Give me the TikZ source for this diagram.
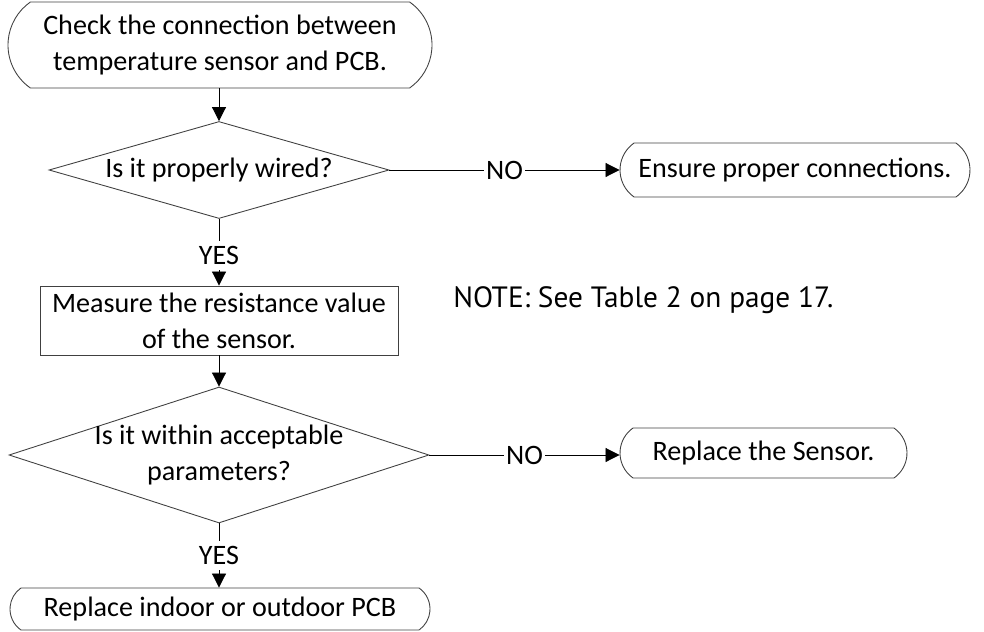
\documentclass[tikz,border=0pt]{standalone}
\usepackage{fontspec}
\setmainfont{Carlito}
\newfontfamily\notefont{PT Sans}
\usetikzlibrary{arrows.meta}
\usetikzlibrary{shapes.geometric}
\usetikzlibrary{shapes.misc}

\begin{document}
\begin{tikzpicture}[
        font=\fontsize{16}{20.5}\selectfont,
        every path/.style={line width=0.5pt},
        terminal/.style={draw=black!75, rounded rectangle, rounded rectangle arc length=110, align=center, inner sep=0pt},
        decision/.style={draw=black!75, diamond, align=center, inner xsep=-1.5cm, inner ysep=-0.25cm},
        process/.style={draw=black!75, rectangle, align=center, inner sep=0pt},
        >={Triangle[width=8pt,length=8pt]},
        answer/.style={fill=white, inner xsep=1pt, inner ysep=3pt}
    ]
            \useasboundingbox (0,0) rectangle (19.68,-12.64);

            \node[terminal, minimum width=8.48cm, minimum height=1.72cm] (check) at (4.4,-0.9) {Check the connection between\\temperature sensor and PCB.};
            \node[decision, minimum width=6.8cm, minimum height=1.94cm] (wired) at (4.38,-3.4) {Is it properly wired?};
            \node[terminal, minimum width=7cm, minimum height=1.08cm] (ensure) at (15.9,-3.4) {Ensure proper connections.};
            \node[process, minimum width=7.16cm, minimum height=1.38cm] (measure) at (4.38,-6.41) {Measure the resistance value\\of the sensor.};
            \node[anchor=west, font=\notefont\fontsize{16.7}{20}\selectfont] (note) at (8.94,-6.0) {NOTE: See Table 2 on page 17.};
            \node[decision, minimum width=8.4cm, minimum height=2.72cm] (within) at (4.38,-9.1) {Is it within acceptable\\parameters?};
            \node[terminal, minimum width=5.74cm, minimum height=1cm] (sensor) at (15.27,-9.06) {Replace the Sensor.};
            \node[terminal, minimum width=8.4cm, minimum height=0.84cm] (pcb) at (4.4,-12.18) {Replace indoor or outdoor PCB};

            \draw[->] (check.south -| wired.north) to (wired);
            \draw[->] (wired) to node[answer] {NO} (ensure);
            \draw[->] (wired) to node[answer, pos=0.55] {YES} (measure);
            \draw[->] (measure) to (within);
            \draw[->] (within) to node[answer] {NO} (sensor.west |- within);
            \draw[->] (within.south) to node[answer] {YES} (within.south |- pcb.north);
        \end{tikzpicture}
\end{document}
